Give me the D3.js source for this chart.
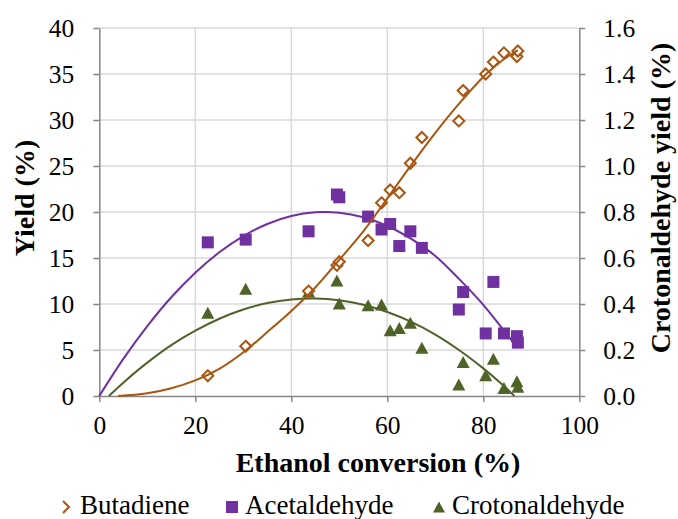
<!DOCTYPE html>
<html>
<head>
<meta charset="utf-8">
<script src="https://cdn.jsdelivr.net/npm/d3@7"></script>
<style>
  html, body { margin: 0; padding: 0; background: #fff; }
  svg { display: block; }
  text { font-family: "Liberation Serif", "Times New Roman", serif; fill: #000; }
</style>
</head>
<body>
<svg id="chart" width="678" height="519"></svg>
<script>
// Ethanol conversion (%) for each run, shared by the three products
const conversion = [22.6, 30.5, 43.6, 49.5, 50.0, 56.0, 58.8, 60.6, 62.5, 64.8, 67.2, 74.9, 75.8, 80.5, 82.1, 84.3, 87.0, 87.2];
// Butadiene and acetaldehyde yields (%) - left axis
const butadiene = [2.2, 5.4, 11.4, 14.2, 14.6, 16.9, 21.0, 22.4, 22.1, 25.3, 28.1, 29.9, 33.2, 35.0, 36.3, 37.3, 36.9, 37.5];
const acetaldehyde = [16.7, 17.0, 17.9, 21.9, 21.6, 19.5, 18.1, 18.7, 16.3, 17.9, 16.1, 9.4, 11.3, 6.8, 12.4, 6.8, 6.5, 5.8];
// Crotonaldehyde yield (%) - right axis
const crotonaldehyde = [0.36, 0.464, 0.452, 0.50, 0.40, 0.392, 0.396, 0.284, 0.294, 0.316, 0.208, 0.048, 0.146, 0.088, 0.16, 0.033, 0.062, 0.038];

// Model curves (conversion, yield)
const butadieneCurveX = [3.9, 10, 15, 20, 25, 30.5, 35, 40, 45, 49.5, 55, 58.8, 64.7, 70, 75, 80.4, 84, 87.2];
const butadieneCurveY = [0, 0.3, 0.85, 1.7, 2.95, 4.95, 6.95, 9.25, 11.8, 14.5, 17.9, 20.6, 24.9, 28.6, 31.8, 34.9, 36.5, 37.6];
const acetaldehydeCurveX = [0, 5, 10, 15, 20, 25, 30, 35, 40, 45, 50, 55, 60, 65, 70, 75, 80, 84, 87.2];
const acetaldehydeCurveY = [0, 4.03, 7.6, 10.73, 13.4, 15.62, 17.38, 18.7, 19.56, 19.97, 19.92, 19.42, 18.48, 17.07, 15.22, 12.7, 9.9, 7.3, 5.2];
const crotonaldehydeCurveX = [2, 5, 10, 15, 20, 25, 30, 35, 40, 45, 50, 55, 60, 65, 70, 75, 80, 84, 86.5];
const crotonaldehydeCurveY = [0, 0.058, 0.145, 0.221, 0.284, 0.336, 0.376, 0.404, 0.420, 0.424, 0.416, 0.397, 0.365, 0.322, 0.267, 0.199, 0.120, 0.049, 0];

const xTicks = [0, 20, 40, 60, 80, 100];
const yLeftTicks = [0, 5, 10, 15, 20, 25, 30, 35, 40];
const yRightTicks = [0, 0.2, 0.4, 0.6, 0.8, 1.0, 1.2, 1.4, 1.6];
const legendLabels = ["Butadiene", "Acetaldehyde", "Crotonaldehyde"];

const colors = { butadiene: "#A9550F", acetaldehyde: "#7030A0", crotonaldehyde: "#4F6228" };

const svg = d3.select("#chart");
const plot = { left: 99.3, right: 579.3, top: 28, bottom: 396 };

const x = d3.scaleLinear().domain([0, 100]).range([plot.left, plot.right]);
const yL = d3.scaleLinear().domain([0, 40]).range([plot.bottom, plot.top]);
const yR = d3.scaleLinear().domain([0, 1.6]).range([plot.bottom, plot.top]);

// Gridlines
const grid = svg.append("g").attr("stroke", "#D9D9D9").attr("stroke-width", 1.5);
yLeftTicks.filter(t => t > 0).forEach(t => {
  grid.append("line").attr("x1", plot.left).attr("x2", plot.right).attr("y1", yL(t)).attr("y2", yL(t));
});
xTicks.filter(t => t > 0 && t < 100).forEach(t => {
  grid.append("line").attr("x1", x(t)).attr("x2", x(t)).attr("y1", plot.top).attr("y2", plot.bottom);
});

// Axes
const axisColor = "#878787";
function styleAxis(g) {
  g.selectAll("path").attr("stroke", axisColor).attr("stroke-width", 1.5);
  g.selectAll("line").attr("stroke", axisColor).attr("stroke-width", 1.5);
  g.selectAll("text").attr("font-family", "Liberation Serif").attr("font-size", 25.5).attr("fill", "#000");
}
svg.append("g").attr("transform", `translate(0,${plot.bottom})`)
  .call(d3.axisBottom(x).tickValues(xTicks).tickSize(6).tickSizeOuter(0))
  .call(styleAxis)
  .call(g => g.selectAll("text").attr("dy", 0).attr("dominant-baseline", "middle").attr("y", 32));
svg.append("g").attr("transform", `translate(${plot.left},0)`)
  .call(d3.axisLeft(yL).tickValues(yLeftTicks).tickSize(6).tickSizeOuter(0).tickPadding(19))
  .call(styleAxis);
svg.append("g").attr("transform", `translate(${plot.right},0)`)
  .call(d3.axisRight(yR).tickValues(yRightTicks).tickFormat(d3.format(".1f")).tickSize(6).tickSizeOuter(0).tickPadding(18))
  .call(styleAxis);

// Markers
const pts = conversion.map((c, i) => ({ c, b: butadiene[i], a: acetaldehyde[i], t: crotonaldehyde[i] }));
const marks = svg.append("g");
marks.selectAll(".cro").data(pts).join("path")
  .attr("transform", d => `translate(${x(d.c)},${yR(d.t)})`)
  .attr("d", "M0,-6.5 L6.5,5.5 L-6.5,5.5 Z")
  .attr("fill", colors.crotonaldehyde);
marks.selectAll(".ace").data(pts).join("rect")
  .attr("x", d => x(d.c) - 6).attr("y", d => yL(d.a) - 6)
  .attr("width", 12).attr("height", 12)
  .attr("fill", colors.acetaldehyde);
marks.selectAll(".but").data(pts).join("path")
  .attr("transform", d => `translate(${x(d.c)},${yL(d.b)})`)
  .attr("d", "M0,-5.5 L5.5,0 L0,5.5 L-5.5,0 Z")
  .attr("fill", "#fff").attr("stroke", colors.butadiene).attr("stroke-width", 2);

// Model curves
const trends = svg.append("g").attr("fill", "none").attr("stroke-width", 2);
const curveLine = (xs, ys, yScale) =>
  d3.line().curve(d3.curveCatmullRom.alpha(0.5)).x((v, i) => x(xs[i])).y((v, i) => yScale(ys[i]))(xs);

trends.append("path").attr("stroke", colors.acetaldehyde)
  .attr("d", curveLine(acetaldehydeCurveX, acetaldehydeCurveY, yL));
trends.append("path").attr("stroke", colors.crotonaldehyde)
  .attr("d", curveLine(crotonaldehydeCurveX, crotonaldehydeCurveY, yR));
trends.append("path").attr("stroke", colors.butadiene)
  .attr("d", curveLine(butadieneCurveX, butadieneCurveY, yL));

// Axis titles
svg.append("text").attr("transform", "translate(34,198) rotate(-90)")
  .attr("text-anchor", "middle").attr("font-weight", "bold").attr("font-size", 28)
  .text("Yield (%)");
svg.append("text").attr("transform", "translate(670,198) rotate(-90)")
  .attr("text-anchor", "middle").attr("font-weight", "bold").attr("font-size", 28)
  .text("Crotonaldehyde yield (%)");
svg.append("text").attr("x", 378).attr("y", 472)
  .attr("text-anchor", "middle").attr("font-weight", "bold").attr("font-size", 28)
  .text("Ethanol conversion (%)");

// Legend
const legend = svg.append("g");
legend.append("path").attr("d", "M63,501 L69,507 L63,513")
  .attr("fill", "none").attr("stroke", colors.butadiene).attr("stroke-width", 2);
legend.append("rect").attr("x", 226).attr("y", 501).attr("width", 12).attr("height", 12)
  .attr("fill", colors.acetaldehyde);
legend.append("path").attr("d", "M439,501.5 L445,512.5 L433,512.5 Z").attr("fill", colors.crotonaldehyde);
const legendX = [80, 245, 452];
legendLabels.forEach((t, i) => {
  legend.append("text").attr("x", legendX[i]).attr("y", 513.5).attr("font-size", 27).text(t);
});
</script>
</body>
</html>
